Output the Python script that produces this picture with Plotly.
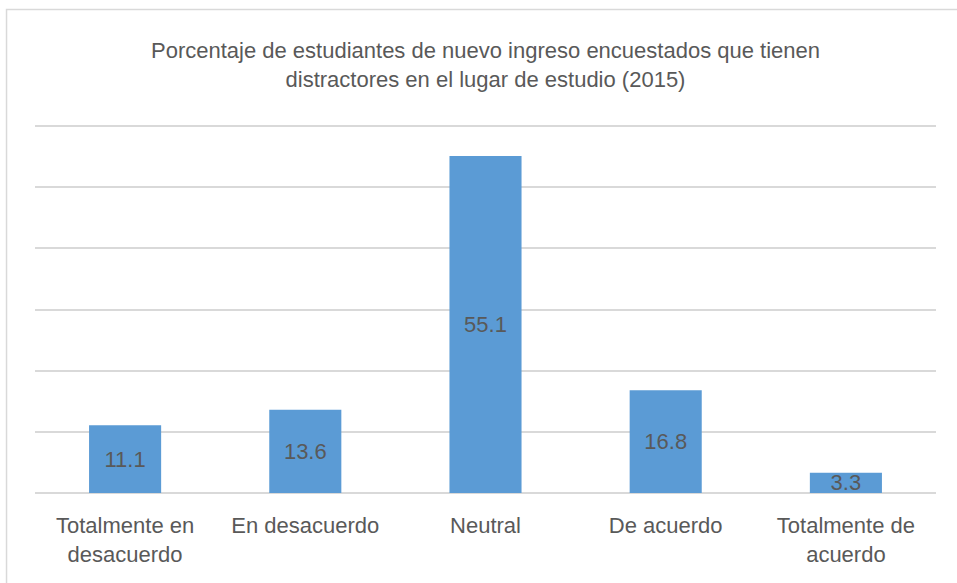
import plotly.graph_objects as go

categorias = ["Totalmente en<br>desacuerdo", "En desacuerdo", "Neutral", "De acuerdo", "Totalmente de<br>acuerdo"]
porcentajes = [11.1, 13.6, 55.1, 16.8, 3.3]
etiquetas = ["11.1", "13.6", "55.1", "16.8", "3.3"]

FUENTE = "Liberation Sans, Arial, sans-serif"
GRIS_TEXTO = "#595959"
GRIS_LINEA = "#D9D9D9"

fig = go.Figure()
fig.add_trace(go.Bar(
    x=categorias,
    y=porcentajes,
    text=etiquetas,
    textposition="inside",
    insidetextanchor="middle",
    constraintext="none",
    textfont=dict(family=FUENTE, size=22, color=GRIS_TEXTO),
    marker=dict(color="#5B9BD5", line=dict(width=0)),
    width=0.4,
    hoverinfo="skip",
))

# eje hasta 61 para que se dibuje la linea de 60
fig.update_layout(
    width=957, height=583,
    margin=dict(l=35, r=21, t=120, b=90),
    paper_bgcolor="white", plot_bgcolor="white",
    showlegend=False,
    font=dict(family=FUENTE, color=GRIS_TEXTO),
    title=dict(
        text="Porcentaje de estudiantes de nuevo ingreso encuestados que tienen<br>distractores en el lugar de estudio (2015)",
        x=0.5, xref="paper", xanchor="center",
        y=1 - 58 / 583, yref="container", yanchor="middle",
        font=dict(family=FUENTE, size=22, color=GRIS_TEXTO),
    ),
    xaxis=dict(
        showgrid=False, showline=False, ticks="",
        ticklabelstandoff=17,
        tickfont=dict(family=FUENTE, size=22, color=GRIS_TEXTO),
    ),
    yaxis=dict(
        range=[0, 61], dtick=10, showticklabels=False,
        showgrid=True, gridcolor=GRIS_LINEA, gridwidth=1.5,
        zeroline=True, zerolinecolor=GRIS_LINEA, zerolinewidth=1.5,
        showline=False, ticks="",
    ),
    shapes=[dict(
        type="rect", xref="paper", yref="paper",
        x0=-0.0316, x1=1.2, y0=-0.6, y1=1.296,
        line=dict(color=GRIS_LINEA, width=1.5), fillcolor="rgba(0,0,0,0)",
        layer="below",
    )],
)

fig.write_html(
    "out.html",
    config={"displayModeBar": False},
    post_script="document.body.style.margin='0';",
)
